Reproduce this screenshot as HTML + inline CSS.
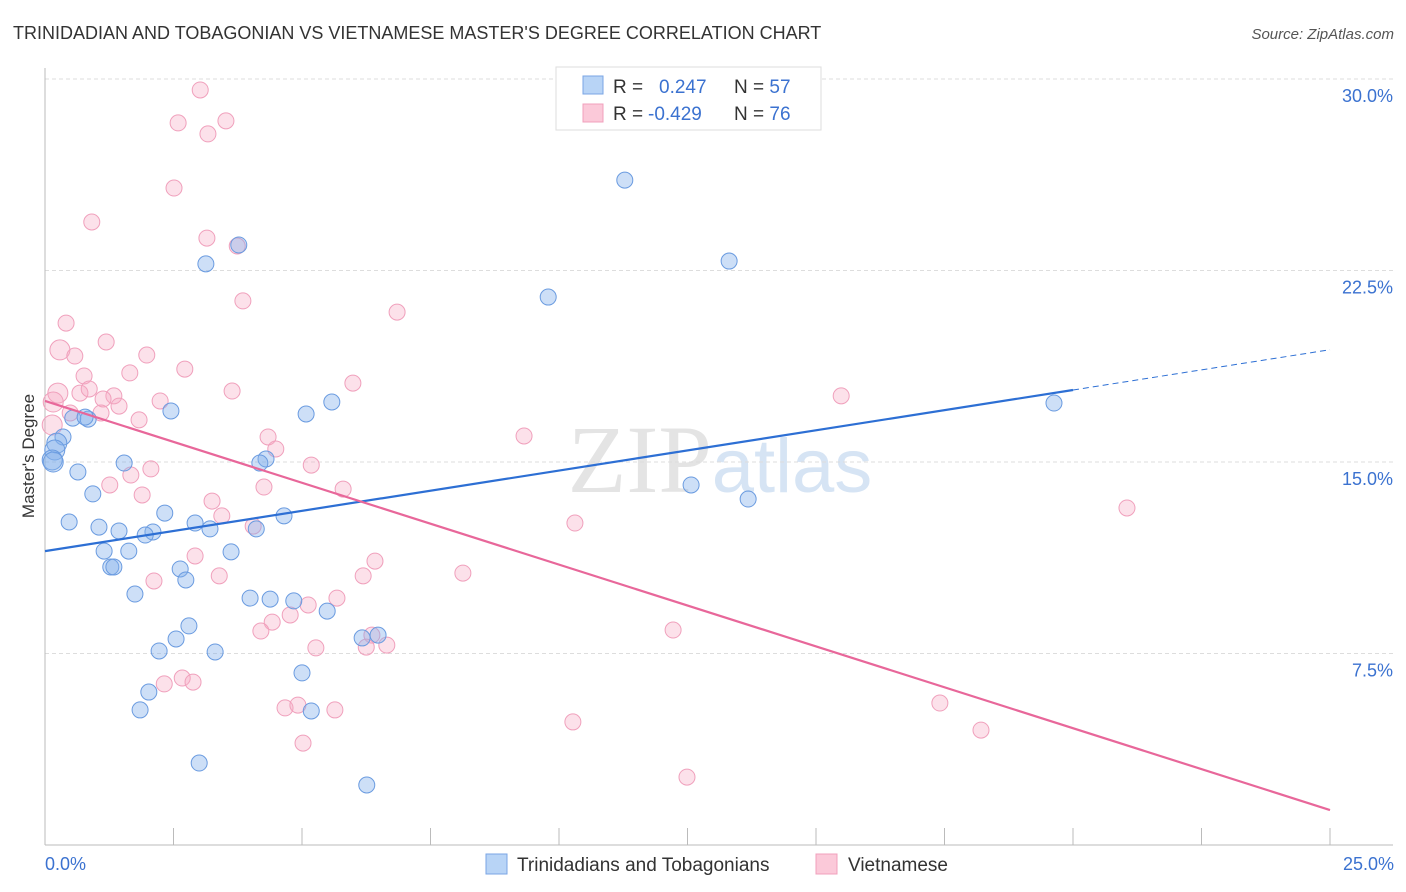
<!DOCTYPE html>
<html><head><meta charset="utf-8"><style>
body{margin:0;background:#fff;font-family:"Liberation Sans",sans-serif;}
#wrap{position:relative;width:1406px;height:892px;overflow:hidden;}
</style></head><body>
<div id="wrap">
<svg id="svg" width="1406" height="892">
<text x="13" y="39" font-size="18" fill="#333">TRINIDADIAN AND TOBAGONIAN VS VIETNAMESE MASTER'S DEGREE CORRELATION CHART</text>
<text x="1394" y="39" font-size="15" fill="#555" font-style="italic" text-anchor="end">Source: ZipAtlas.com</text>
<text x="720" y="492" font-size="96" fill="#e4e4e4" text-anchor="middle" font-family="Liberation Serif,serif">ZIP<tspan fill="#d6e4f4" font-family="Liberation Sans,sans-serif" font-size="76">atlas</tspan></text>
<text transform="translate(34,456) rotate(-90)" font-size="17" fill="#333" text-anchor="middle">Master's Degree</text>
<g id="grid"></g><g id="pts"></g><g id="lines"></g>
<g>
<rect x="556" y="67" width="265" height="63" fill="#fff" stroke="#ddd"/>
<rect x="583" y="76" width="20" height="18" fill="#b8d4f6" stroke="#7aa5e4"/>
<rect x="583" y="104" width="20" height="18" fill="#fbc9d9" stroke="#f0a0bc"/>
<text x="613" y="93" font-size="19" fill="#333">R = <tspan x="659" fill="#3b72d0">0.247</tspan></text>
<text x="734" y="93" font-size="19" fill="#333">N = <tspan fill="#3b72d0">57</tspan></text>
<text x="613" y="120" font-size="19" fill="#333">R = <tspan x="648" fill="#3b72d0">-0.429</tspan></text>
<text x="734" y="120" font-size="19" fill="#333">N = <tspan fill="#3b72d0">76</tspan></text>
</g>
<g>
<rect x="486" y="854" width="21" height="20" fill="#b8d4f6" stroke="#7aa5e4"/>
<text x="517" y="871" font-size="19" fill="#333">Trinidadians and Tobagonians</text>
<rect x="816" y="854" width="21" height="20" fill="#fbc9d9" stroke="#f0a0bc"/>
<text x="848" y="871" font-size="19" fill="#333">Vietnamese</text>
</g>
<text x="45" y="870" font-size="18" fill="#3b72d0">0.0%</text>
<text x="1394" y="870" font-size="18" fill="#3b72d0" text-anchor="end">25.0%</text>
</svg></div>
<script>
const yTicks=[7.5,15,22.5,30];
const yTickLabels=["7.5%","15.0%","22.5%","30.0%"];
const xTicks=[0,2.5,5,7.5,10,12.5,15,17.5,20,22.5,25];
const blueX=[11.28,13.31,9.79,19.63,3.77,3.13,5.58,5.08,2.45,0.84,0.54,0.78,0.35,0.23,0.19,0.14,0.16,0.64,0.93,1.54,4.30,4.18,0.47,1.05,1.44,2.10,1.95,2.33,2.92,3.21,4.65,4.11,12.57,13.68,1.15,1.63,3.62,1.28,1.34,2.63,2.74,1.75,3.99,4.38,4.84,5.49,2.80,2.55,2.22,3.31,6.17,6.48,5.00,2.02,1.85,5.18,3.00,6.26];
const blueY=[26.04,22.87,21.46,17.31,23.50,22.76,17.35,16.88,17.00,16.68,16.72,16.76,15.98,15.74,15.47,15.08,15.00,14.61,13.75,14.96,15.12,14.96,12.65,12.45,12.30,12.26,12.14,13.00,12.61,12.38,12.89,12.38,14.10,13.55,11.51,11.51,11.48,10.89,10.89,10.81,10.38,9.83,9.67,9.63,9.56,9.16,8.58,8.07,7.60,7.56,8.11,8.22,6.74,5.99,5.29,5.25,3.21,2.35];
const pinkX=[3.02,2.59,3.52,3.17,2.51,0.91,3.15,3.74,3.85,6.85,0.41,0.29,0.58,1.19,1.98,2.72,1.65,0.76,0.25,0.68,0.86,1.34,1.13,1.44,0.16,0.14,0.49,1.09,2.24,1.83,3.64,5.99,15.49,9.32,4.34,4.49,5.18,2.06,1.67,1.26,1.89,4.26,3.25,5.80,3.44,4.05,10.31,21.05,6.42,2.92,6.19,2.12,3.39,8.13,5.68,5.12,4.77,4.42,4.20,12.22,6.36,6.25,6.65,5.27,2.67,2.88,2.32,4.67,4.92,5.64,10.27,17.41,18.21,5.02,12.49];
const pinkY=[29.57,28.28,28.36,27.85,25.73,24.40,23.77,23.46,21.31,20.87,20.44,19.39,19.15,19.70,19.19,18.64,18.49,18.37,17.70,17.70,17.86,17.59,17.47,17.19,17.35,16.45,16.92,16.92,17.39,16.65,17.78,18.09,17.59,16.02,15.98,15.51,14.88,14.73,14.49,14.10,13.71,14.02,13.47,13.94,12.89,12.49,12.61,13.20,11.12,11.32,10.54,10.34,10.54,10.65,9.67,9.40,9.01,8.73,8.38,8.42,8.22,7.75,7.83,7.72,6.54,6.38,6.31,5.37,5.48,5.29,4.82,5.56,4.50,3.99,2.66];
const blueTrend=[11.51,0.3155]; // intercept, slope
const blueSolidEnd=[20];
const pinkTrend=[17.39,-0.6408];
const NS="http://www.w3.org/2000/svg";
const X=v=>45+v*51.4, Y=v=>845-v*25.533;
function mk(p,t,a){const e=document.createElementNS(NS,t);for(const k in a)e.setAttribute(k,a[k]);p.appendChild(e);return e;}
const grid=document.getElementById('grid'),pts=document.getElementById('pts'),lines=document.getElementById('lines');
yTicks.forEach((t,i)=>{
 const l=mk(grid,'line',{x1:45,x2:1393,y1:Y(t),y2:Y(t),stroke:'#ddd','stroke-dasharray':'4,3'});
 
 
 const tx=mk(grid,'text',{x:1393,y:Y(t)+23,'font-size':18,fill:'#3b72d0','text-anchor':'end'});tx.textContent=yTickLabels[i];
 
 
});
const ax=mk(grid,'line',{x1:45,x2:45,y1:68,y2:845,stroke:'#bbb'});


const bx=mk(grid,'line',{x1:45,x2:1393,y1:845,y2:845,stroke:'#bbb'});


xTicks.forEach(t=>{const l=mk(grid,'line',{x1:X(t),x2:X(t),y1:828,y2:845,stroke:'#bbb'});
 
 });
function dots(xs,ys,fill,stroke,name){xs.forEach((x,i)=>{
 const r=x<0.3?10:8;
 const c=mk(pts,'circle',{cx:X(x),cy:Y(ys[i]),r:r,fill:fill,stroke:stroke,'stroke-width':1});
 
 });}
dots(pinkX,pinkY,'rgba(246,170,196,0.35)','#f0a0bc','vietnamese-point');
dots(blueX,blueY,'rgba(130,175,235,0.4)','#6a9be0','trinidadian-point');
const bf=x=>blueTrend[0]+blueTrend[1]*x, pf=x=>pinkTrend[0]+pinkTrend[1]*x;
const b1=mk(lines,'line',{x1:X(0),y1:Y(bf(0)),x2:X(blueSolidEnd[0]),y2:Y(bf(blueSolidEnd[0])),stroke:'#2d6fd4','stroke-width':2.2});


const b2=mk(lines,'line',{x1:X(blueSolidEnd[0]),y1:Y(bf(blueSolidEnd[0])),x2:X(25),y2:Y(bf(25)),stroke:'#2d6fd4','stroke-width':1,'stroke-dasharray':'6,4'});


const p1=mk(lines,'line',{x1:X(0),y1:Y(pf(0)),x2:X(25),y2:Y(pf(25)),stroke:'#e8679a','stroke-width':2.2});


</script>
</body></html>
